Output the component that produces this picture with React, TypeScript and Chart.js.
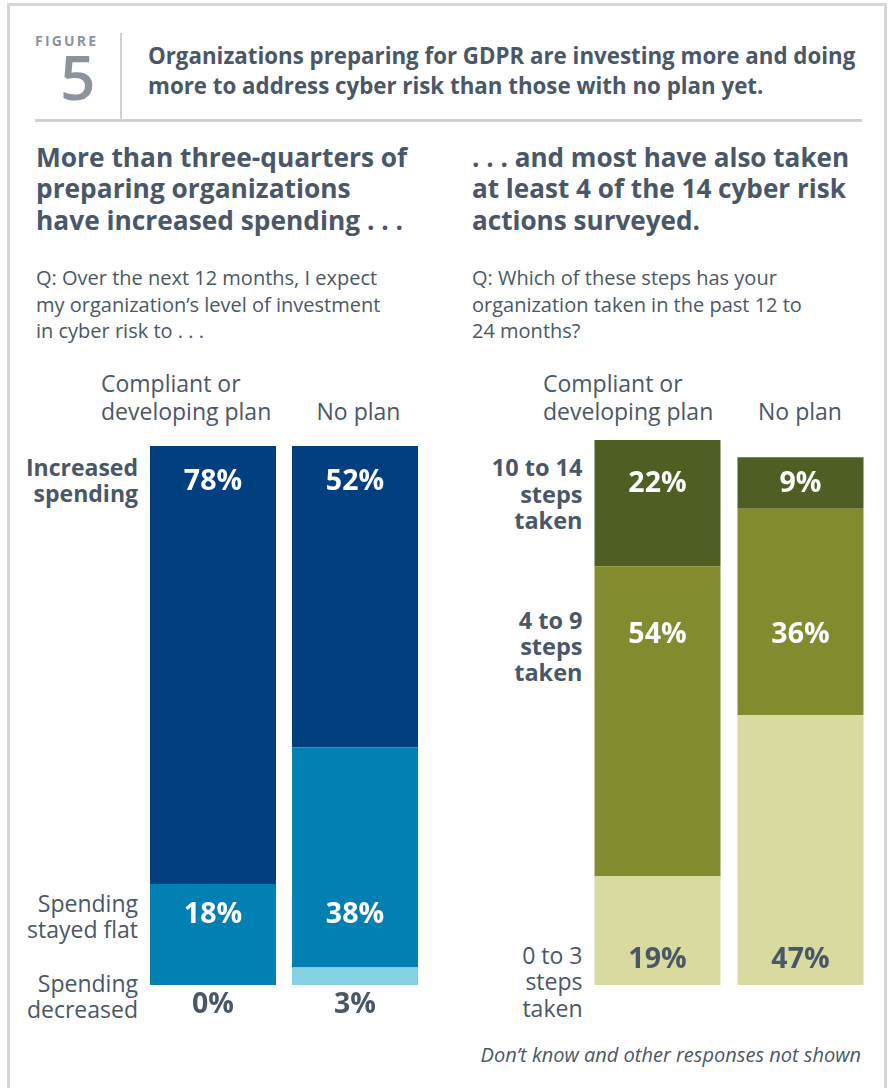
import React, { useEffect, useRef } from "react";
import { Chart, registerables } from "chart.js";

Chart.register(...registerables);

// ---------- data ----------
const categories = ["Compliant or developing plan", "No plan"];

// Left panel: expected investment in cyber risk
const spendIncreased = [78, 52];
const spendFlat = [18, 38];
const spendDecreased = [0, 3];
const leftRowLabels = [
  ["Increased", "spending"],
  ["Spending", "stayed flat"],
  ["Spending", "decreased"],
];

// Right panel: number of cyber risk steps taken
const steps10to14 = [22, 9];
const steps4to9 = [54, 36];
const steps0to3 = [19, 47];
const rightRowLabels = [
  ["10 to 14", "steps", "taken"],
  ["4 to 9", "steps", "taken"],
  ["0 to 3", "steps", "taken"],
];

// ---------- style ----------
const FONT = "'Open Sans', Lato, sans-serif";
const ASC = 1.069;
const NORMAL_LH = 1.362;
const SLATE = "#4a5768";
const GRAY = "#8c939c";
const RULE = "#cdd0d4";
const BLUE_DARK = "#013f7f";
const BLUE_MID = "#0280b4";
const BLUE_LIGHT = "#84d1e4";
const OLIVE_DARK = "#4f5e22";
const OLIVE_MID = "#838b2f";
const OLIVE_LIGHT = "#d9daa0";

type TxtProps = {
  x: number;
  y: number; // baseline of first line
  size: number;
  lh: number;
  weight?: number;
  align?: "left" | "right" | "center";
  color?: string;
  italic?: boolean;
  ls?: number;
  lines: string[];
};

function Txt({ x, y, size, lh, weight = 400, align = "left", color = SLATE, italic = false, ls = 0, lines }: TxtProps) {
  const top = y - ((lh - NORMAL_LH * size) / 2 + ASC * size);
  const style: React.CSSProperties = {
    position: "absolute",
    top,
    fontFamily: FONT,
    fontSize: size,
    lineHeight: `${lh}px`,
    fontWeight: weight,
    fontStyle: italic ? "italic" : "normal",
    color,
    whiteSpace: "nowrap",
    letterSpacing: ls,
    textAlign: align,
  };
  if (align === "left") style.left = x;
  else if (align === "right") style.right = 888 - x;
  else {
    style.left = x - 200;
    style.width = 400;
  }
  return (
    <div style={style}>
      {lines.map((l, i) => (
        <div key={i}>{l}</div>
      ))}
    </div>
  );
}

const valueLabelPlugin = {
  id: "valueLabels",
  afterDatasetsDraw(chart: any, _args: any, opts: any) {
    const ctx = chart.ctx;
    ctx.save();
    ctx.font = `bold ${opts.size}px ${FONT}`;
    ctx.textAlign = "center";
    ctx.textBaseline = "alphabetic";
    chart.data.datasets.forEach((_ds: any, i: number) => {
      const meta = chart.getDatasetMeta(i);
      meta.data.forEach((bar: any, j: number) => {
        ctx.fillStyle = opts.colors[i];
        ctx.fillText(`${opts.values[i][j]}%`, bar.x, chart.chartArea.top + opts.rows[i]);
      });
    });
    ctx.restore();
  },
};

type BarProps = {
  left: number;
  top: number;
  width: number;
  height: number;
  padTop: number;
  padBottom: number;
  series: number[][]; // bottom to top
  shown: number[][]; // values drawn (bottom to top)
  max: number;
  colors: string[];
  labelColors: string[];
  labelRows: number[];
  barPct: number;
};

function StackedBars(p: BarProps) {
  const ref = useRef<HTMLCanvasElement>(null);
  useEffect(() => {
    if (!ref.current) return;
    const chart = new Chart(ref.current, {
      type: "bar",
      data: {
        labels: categories,
        datasets: p.shown.map((vals, i) => ({
          data: vals,
          backgroundColor: p.colors[i],
          borderWidth: 0,
          barPercentage: p.barPct,
          categoryPercentage: 1,
        })),
      },
      options: {
        responsive: false,
        animation: false,
        events: [],
        layout: { padding: { top: p.padTop, bottom: p.padBottom, left: 0, right: 0 } },
        scales: {
          x: { stacked: true, display: false },
          y: { stacked: true, display: false, min: 0, max: p.max },
        },
        plugins: {
          legend: { display: false },
          tooltip: { enabled: false },
          valueLabels: { values: p.series, rows: p.labelRows, colors: p.labelColors, size: 28.5 },
        } as any,
      },
      plugins: [valueLabelPlugin],
    });
    return () => chart.destroy();
  }, []);
  return (
    <canvas
      ref={ref}
      width={p.width}
      height={p.height}
      style={{ position: "absolute", left: p.left, top: p.top, width: p.width, height: p.height }}
    />
  );
}

export default function App() {
  useEffect(() => {
    document.body.style.margin = "0";
  }, []);

  // left panel: each bar scaled to its own total (bars drawn full height)
  const leftSeries = [spendDecreased, spendFlat, spendIncreased];
  const leftTotals = categories.map((_, j) => leftSeries.reduce((s, arr) => s + arr[j], 0));
  const leftShown = leftSeries.map((arr) => arr.map((v, j) => (v / leftTotals[j]) * 100));

  // right panel: absolute values
  const rightSeries = [steps0to3, steps4to9, steps10to14];
  const rightTotals = categories.map((_, j) => rightSeries.reduce((s, arr) => s + arr[j], 0));
  const rightMax = Math.max(...rightTotals);

  return (
    <div style={{ position: "relative", width: 888, height: 1088, overflow: "hidden", background: "#fff" }}>
      {/* frame */}
      <div
        style={{
          position: "absolute",
          left: 7,
          top: 3,
          width: 880,
          height: 1200,
          border: "3px solid #d4d6d9",
          boxSizing: "border-box",
        }}
      />
      {/* header */}
      <Txt x={35} y={46.7} size={14} lh={16} weight={700} color={GRAY} ls={2.2} lines={["FIGURE"]} />
      <Txt x={60} y={100} size={62} lh={66} weight={600} color={GRAY} lines={["5"]} />
      <div style={{ position: "absolute", left: 120, top: 33, width: 2, height: 88, background: RULE }} />
      <div style={{ position: "absolute", left: 35, top: 119, width: 827, height: 3, background: RULE }} />
      <Txt
        x={148}
        y={64.5}
        size={22.3}
        lh={30.5}
        weight={700}
        lines={[
          "Organizations preparing for GDPR are investing more and doing",
          "more to address cyber risk than those with no plan yet.",
        ]}
      />

      {/* left subtitle & question */}
      <Txt
        x={36}
        y={167.7}
        size={26.3}
        lh={31.7}
        weight={700}
        lines={["More than three-quarters of", "preparing organizations", "have increased spending . . ."]}
      />
      <Txt
        x={36}
        y={286}
        size={20}
        lh={26.7}
        lines={["Q: Over the next 12 months, I expect", "my organization\u2019s level of investment", "in cyber risk to . . ."]}
      />
      {/* right subtitle & question */}
      <Txt
        x={472}
        y={167.7}
        size={26.1}
        lh={31.7}
        weight={700}
        lines={[". . . and most have also taken", "at least 4 of the 14 cyber risk", "actions surveyed."]}
      />
      <Txt
        x={472}
        y={286}
        size={20}
        lh={26.7}
        lines={["Q: Which of these steps has your", "organization taken in the past 12 to", "24 months?"]}
      />

      {/* column headers */}
      <Txt x={101} y={391.7} size={23} lh={28.3} lines={["Compliant or", "developing plan"]} />
      <Txt x={316.5} y={420} size={23} lh={28} lines={[categories[1]]} />
      <Txt x={543} y={391.7} size={23} lh={28.3} lines={["Compliant or", "developing plan"]} />
      <Txt x={758} y={420} size={23} lh={28} lines={[categories[1]]} />

      {/* left row labels */}
      <Txt x={138} y={476} size={23} lh={26.5} weight={700} align="right" lines={leftRowLabels[0]} />
      <Txt x={138} y={912.3} size={23} lh={26} align="right" lines={leftRowLabels[1]} />
      <Txt x={138} y={991.7} size={23} lh={26.5} align="right" lines={leftRowLabels[2]} />

      {/* right row labels */}
      <Txt x={582.5} y={476.7} size={23.5} lh={26.2} weight={700} align="right" lines={rightRowLabels[0]} />
      <Txt x={582.5} y={629} size={23.5} lh={26.3} weight={700} align="right" lines={rightRowLabels[1]} />
      <Txt x={582.5} y={964} size={23} lh={26.3} align="right" lines={rightRowLabels[2]} />

      <StackedBars
        left={142}
        top={430}
        width={284}
        height={600}
        padTop={16}
        padBottom={45}
        series={leftSeries}
        shown={leftShown}
        max={100}
        colors={[BLUE_LIGHT, BLUE_MID, BLUE_DARK]}
        labelColors={[SLATE, "#ffffff", "#ffffff"]}
        labelRows={[567.3, 476.7, 44]}
        barPct={126 / 142}
      />
      <StackedBars
        left={586}
        top={430}
        width={286}
        height={600}
        padTop={10}
        padBottom={45}
        series={rightSeries}
        shown={rightSeries}
        max={rightMax}
        colors={[OLIVE_LIGHT, OLIVE_MID, OLIVE_DARK]}
        labelColors={[SLATE, "#ffffff", "#ffffff"]}
        labelRows={[528.3, 203.3, 52.3]}
        barPct={126 / 143}
      />

      <Txt
        x={861}
        y={1063}
        size={20}
        lh={22}
        italic
        align="right"
        lines={["Don\u2019t know and other responses not shown"]}
      />
    </div>
  );
}
